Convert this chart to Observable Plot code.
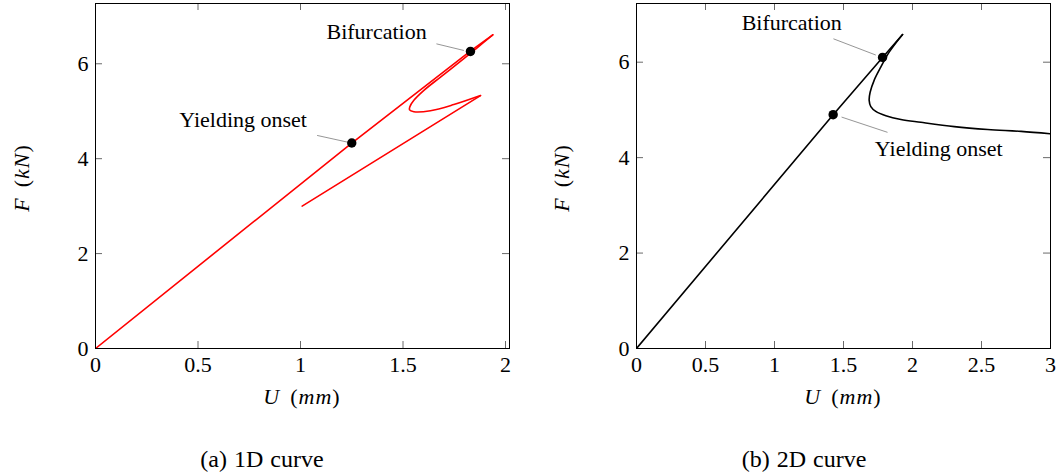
<!DOCTYPE html>
<html>
<head>
<meta charset="utf-8">
<script src="https://cdn.jsdelivr.net/npm/d3@7"></script>
<script src="https://cdn.jsdelivr.net/npm/@observablehq/plot@0.6"></script>
<style>
  html, body { margin: 0; padding: 0; background: #fff; }
  #root { position: relative; width: 1062px; height: 475px; overflow: hidden; font-family: "Liberation Serif", serif; color: #000; }
  .panel { position: absolute; top: 0; }
  .lbl { position: absolute; white-space: nowrap; font-size: 22px; line-height: 1; letter-spacing: 1px; transform: translate(-50%, -50%); }
  .lbl.rot { transform: translate(-50%, -50%) rotate(-90deg); }
  .gap { display: inline-block; width: 10px; }
  .cap { position: absolute; white-space: nowrap; font-size: 24px; line-height: 1; transform: translate(-50%, -50%); word-spacing: 1px; }
</style>
</head>
<body>
<div id="root"></div>
<script>
// ---------- Data: (a) 1D curve ----------
const u1Main = [0, 1.25, 1.83, 1.938];
const f1Main = [0, 4.33, 6.27, 6.61];
const u1Loop = [1.938, 1.86, 1.78, 1.683, 1.602, 1.553, 1.533, 1.532, 1.553, 1.634, 1.748, 1.878];
const f1Loop = [6.61, 6.33, 6.05, 5.72, 5.44, 5.23, 5.09, 5.03, 4.99, 5.01, 5.14, 5.33];
const u1Tail = [1.878, 1.008];
const f1Tail = [5.33, 3.00];
const u1Pts = [1.25, 1.829];
const f1Pts = [4.33, 6.26];
const notes1 = ["Yielding onset", "Bifurcation"];
const notes1U = [0.72, 1.371];
const notes1F = [4.82, 6.68];
const pins1U1 = [1.081, 1.663], pins1F1 = [4.49, 6.42];
const pins1U2 = [1.228, 1.797], pins1F2 = [4.35, 6.28];
const xTicks1 = [0, 0.5, 1, 1.5, 2];
const yTicks1 = [0, 2, 4, 6];

// ---------- Data: (b) 2D curve ----------
const u2Main = [0, 1.425, 1.783, 1.928];
const f2Main = [0, 4.90, 6.10, 6.58];
const u2Branch = [1.928, 1.831, 1.771, 1.722, 1.693, 1.686, 1.698, 1.734, 1.807, 1.916, 2.061, 2.303, 2.545, 2.787, 3.0];
const f2Branch = [6.58, 6.21, 5.90, 5.62, 5.37, 5.20, 5.07, 4.97, 4.88, 4.80, 4.74, 4.65, 4.59, 4.55, 4.50];
const u2Pts = [1.425, 1.783];
const f2Pts = [4.90, 6.10];
const notes2 = ["Yielding onset", "Bifurcation"];
const notes2U = [2.19, 1.125];
const notes2F = [4.19, 6.82];
const pins2U1 = [1.486, 1.427], pins2F1 = [4.85, 6.49];
const pins2U2 = [1.819, 1.734], pins2F2 = [4.53, 6.15];
const xTicks2 = [0, 0.5, 1, 1.5, 2, 2.5, 3];
const yTicks2 = [0, 2, 4, 6];

const zip = (us, fs) => us.map((u, i) => ({u, f: fs[i]}));
const FONT = "'Liberation Serif', serif";
const FS = 22;

function panel(cfg) {
  const W = 531, H = 420;
  const iw = W - cfg.ml - cfg.mr, ih = H - cfg.mt - cfg.mb;
  const tickStyle = {stroke: "#444", strokeWidth: 0.8};
  const notes = cfg.notes.map((t, i) => ({t, u: cfg.nu[i], f: cfg.nf[i]}));
  const pins = cfg.pu1.map((u, i) => ({u1: u, f1: cfg.pf1[i], u2: cfg.pu2[i], f2: cfg.pf2[i]}));
  const lines = cfg.lines.map(l => Plot.line(zip(l.u, l.f), {x: "u", y: "f", stroke: cfg.color, strokeWidth: 1.6, curve: l.curve, clip: true}));
  return Plot.plot({
    width: W, height: H,
    marginLeft: cfg.ml, marginRight: cfg.mr, marginTop: cfg.mt, marginBottom: cfg.mb,
    style: {fontFamily: FONT, fontSize: FS + "px", background: "transparent", overflow: "visible"},
    x: {domain: cfg.xd, label: null},
    y: {domain: cfg.yd, label: null},
    marks: [
      Plot.tickX(cfg.xt, {x: d => d, insetTop: ih - 7, ...tickStyle}),
      Plot.tickX(cfg.xt, {x: d => d, insetBottom: ih - 7, ...tickStyle}),
      Plot.tickY(cfg.yt, {y: d => d, insetRight: iw - 7, ...tickStyle}),
      Plot.tickY(cfg.yt, {y: d => d, insetLeft: iw - 7, ...tickStyle}),
      Plot.axisX({ticks: cfg.xt, tickSize: 0, tickPadding: 8, tickFormat: d => String(d), fontSize: FS, label: null}),
      Plot.axisY({ticks: cfg.yt, tickSize: 0, tickPadding: 7, tickFormat: d => String(d), fontSize: FS, label: null}),
      ...lines,
      Plot.link(pins, {x1: "u1", y1: "f1", x2: "u2", y2: "f2", stroke: "#8a8a8a", strokeWidth: 0.9}),
      Plot.dot(zip(cfg.pu, cfg.pf), {x: "u", y: "f", r: 4.7, fill: "black", stroke: "none"}),
      Plot.text(notes, {x: "u", y: "f", text: "t", fontSize: FS, fill: "black", textAnchor: "middle"}),
      Plot.frame({stroke: "black", strokeWidth: 1})
    ]
  });
}

const root = document.getElementById("root");

const p1 = panel({
  ml: 95, mr: 22, mt: 3, mb: 72,
  xd: [0, 2.0195], yd: [0, 7.27], xt: xTicks1, yt: yTicks1, color: "#ff0000",
  lines: [
    {u: u1Main, f: f1Main, curve: "linear"},
    {u: u1Loop, f: f1Loop, curve: "catmull-rom"},
    {u: u1Tail, f: f1Tail, curve: "linear"}
  ],
  pu: u1Pts, pf: f1Pts,
  notes: notes1, nu: notes1U, nf: notes1F,
  pu1: pins1U1, pf1: pins1F1, pu2: pins1U2, pf2: pins1F2
});
p1.classList.add("panel"); p1.style.left = "0px";
root.appendChild(p1);

const p2 = panel({
  ml: 105, mr: 12, mt: 3, mb: 72,
  xd: [0, 3], yd: [0, 7.23], xt: xTicks2, yt: yTicks2, color: "#000000",
  lines: [
    {u: u2Main, f: f2Main, curve: "linear"},
    {u: u2Branch, f: f2Branch, curve: "catmull-rom"}
  ],
  pu: u2Pts, pf: f2Pts,
  notes: notes2, nu: notes2U, nf: notes2F,
  pu1: pins2U1, pf1: pins2F1, pu2: pins2U2, pf2: pins2F2
});
p2.classList.add("panel"); p2.style.left = "531px";
root.appendChild(p2);

function addLabel(html, x, y, cls) {
  const d = document.createElement("div");
  d.className = cls;
  d.innerHTML = html;
  d.style.left = x + "px";
  d.style.top = y + "px";
  root.appendChild(d);
}
const xLabel = "<i>U</i><span class='gap'></span>(<i>mm</i>)";
const yLabel = "<i>F</i><span class='gap'></span>(<i>kN</i>)";
addLabel(xLabel, 302, 397, "lbl");
addLabel(xLabel, 843, 397, "lbl");
addLabel(yLabel, 22, 178, "lbl rot");
addLabel(yLabel, 562, 178, "lbl rot");
addLabel("(a) 1D curve", 262, 459, "cap");
addLabel("(b) 2D curve", 804, 459, "cap");
</script>
</body>
</html>
